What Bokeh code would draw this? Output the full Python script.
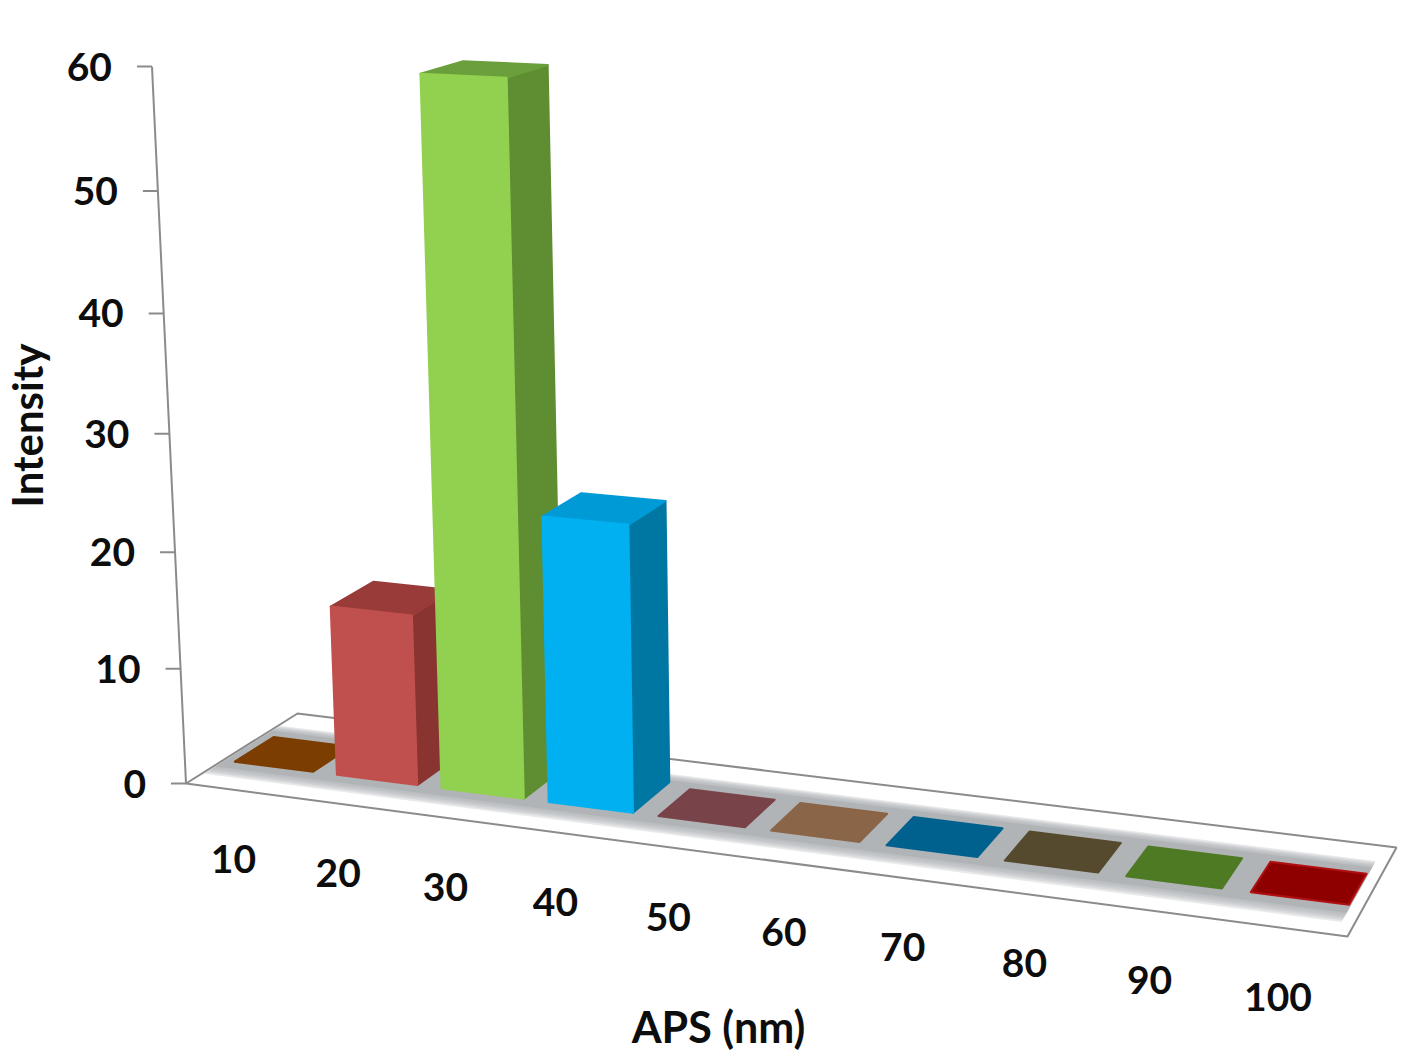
import numpy as np
from bokeh.plotting import figure
from bokeh.core.properties import value
from bokeh.embed import file_html
from bokeh.resources import INLINE

# ---- data -------------------------------------------------------------
categories = ["10", "20", "30", "40", "50", "60", "70", "80", "90", "100"]
intensity = [0, 14.7, 59.5, 24.2, 0, 0, 0, 0, 0, 0]
y_ticks = [0, 10, 20, 30, 40, 50, 60]
front_colors = ["#7b3d00", "#c0504d", "#92d050", "#00b0f0", "#784349", "#8b6547", "#00618f", "#564a2e", "#4e7a24", "#b01010"]
top_colors = ["#7b3d00", "#983b39", "#6a9f3c", "#009bd6", "#784349", "#8b6547", "#00618f", "#564a2e", "#4e7a24", "#8e0000"]
side_colors = ["#7b3d00", "#8a3431", "#5f8d32", "#0077a3", "#784349", "#8b6547", "#00618f", "#564a2e", "#4e7a24", "#8e0000"]
x_title = "APS (nm)"
y_title = "Intensity"

# ---- 3-D projection calibration (screen pixels of floor and axis) ------
FL, FR, BR, BL = (185.5, 783), (1347, 936), (1396, 847), (297, 713)
VP = (860, 15000)
AXIS_TOP = 66

def homography(pts):
    src = [(0, 0), (1, 0), (1, 1), (0, 1)]
    A, b = [], []
    for (s, t), (x, y) in zip(src, pts):
        A.append([s, t, 1, 0, 0, 0, -s * x, -t * x]); b.append(x)
        A.append([0, 0, 0, s, t, 1, -s * y, -t * y]); b.append(y)
    return np.append(np.linalg.solve(np.array(A, float), np.array(b, float)), 1).reshape(3, 3)

H = homography([FL, FR, BR, BL])
C = (FL[1] - AXIS_TOP) / (AXIS_TOP * 60 - 60 * VP[1])
ZV = np.array([VP[0], VP[1], 1.0]) * C

def proj(u, w, z=0.0):
    v = H @ np.array([u / len(categories), w, 1.0]) + z * ZV
    return float(v[0] / v[2]), float(v[1] / v[2])

def quad(a, b, c, d):
    return [a[0], b[0], c[0], d[0]], [a[1], b[1], c[1], d[1]]

# ---- figure: data space equals the picture's pixels ---------------------
p = figure(width=1405, height=1053, x_range=(0, 1405), y_range=(1053, 0),
           output_backend="svg", toolbar_location=None, min_border=0,
           outline_line_color=None, background_fill_color="white")
p.axis.visible = False
p.grid.visible = False

GREY = "#8b8b8b"
INK = "#0d0d0d"
FONT = value("Lato")

# floor
xs, ys = quad(proj(0, 0), proj(10, 0), proj(10, 1), proj(0, 1))
p.patch(xs, ys, fill_color="white", line_color=GREY, line_width=2)

# blurred shadow band on the floor
W0, W1 = 0.235, 0.745
for k in range(6):
    s = 5 - k
    xs, ys = quad(proj(0.02, W0 - 0.02 * s), proj(9.9, W0 - 0.02 * s),
                  proj(9.9, W1 + 0.015 * s), proj(0.02, W1 + 0.015 * s))
    p.patch(xs, ys, fill_color="#aeb0b3", fill_alpha=0.28 if k < 5 else 0.75, line_color=None)

# axis line and ticks
p0, p60 = proj(0, 0, 0), proj(0, 0, 60)
p.line([p0[0], p60[0]], [p0[1], p60[1]], line_color=GREY, line_width=2)
for t in y_ticks:
    px, py = proj(0, 0, t)
    p.line([px - 15, px], [py, py], line_color=GREY, line_width=2)
    p.text([px - 40], [py], text=[str(t)], text_font=FONT, text_font_style="bold",
           text_font_size="39px", text_color=INK, text_align="right", text_baseline="middle")

# bars
GAP = 0.115
D0, D1_FLAT, D1_BAR = 0.32, 0.67, 0.72
for i, val in enumerate(intensity):
    u0, u1 = i + GAP, i + 1 - GAP
    if val > 0:
        f0, f1, b1 = proj(u0, D0), proj(u1, D0), proj(u1, D1_BAR)
        t0, t1, t2, t3 = proj(u0, D0, val), proj(u1, D0, val), proj(u1, D1_BAR, val), proj(u0, D1_BAR, val)
        faces = [(quad(f1, b1, t2, t1), side_colors[i], side_colors[i]),
                 (quad(t0, t1, t2, t3), top_colors[i], top_colors[i]),
                 (quad(f0, f1, t1, t0), front_colors[i], front_colors[i])]
    else:
        faces = [(quad(proj(u0, D0), proj(u1, D0), proj(u1, D1_FLAT), proj(u0, D1_FLAT)), top_colors[i], front_colors[i])]
    for (xs, ys), col, edge in faces:
        p.patch(xs, ys, fill_color=col, line_color=edge, line_width=2, line_join="round")

# category labels
for i, c in enumerate(categories):
    fx, fy = proj(i + 0.5, 0)
    p.text([fx], [fy], text=[c], x_offset=-4, y_offset=69, text_font=FONT, text_font_style="bold",
           text_font_size="39px", text_color=INK, text_align="center", text_baseline="middle")

# titles
p.text([718], [1026], text=[x_title], text_font=FONT, text_font_style="bold",
       text_font_size="43px", text_color=INK, text_align="center", text_baseline="middle")
p.text([26], [425], text=[y_title], angle=np.pi / 2, text_font=FONT, text_font_style="bold",
       text_font_size="42px", text_color=INK, text_align="center", text_baseline="middle")

open("out.html", "w").write(file_html(p, INLINE))
